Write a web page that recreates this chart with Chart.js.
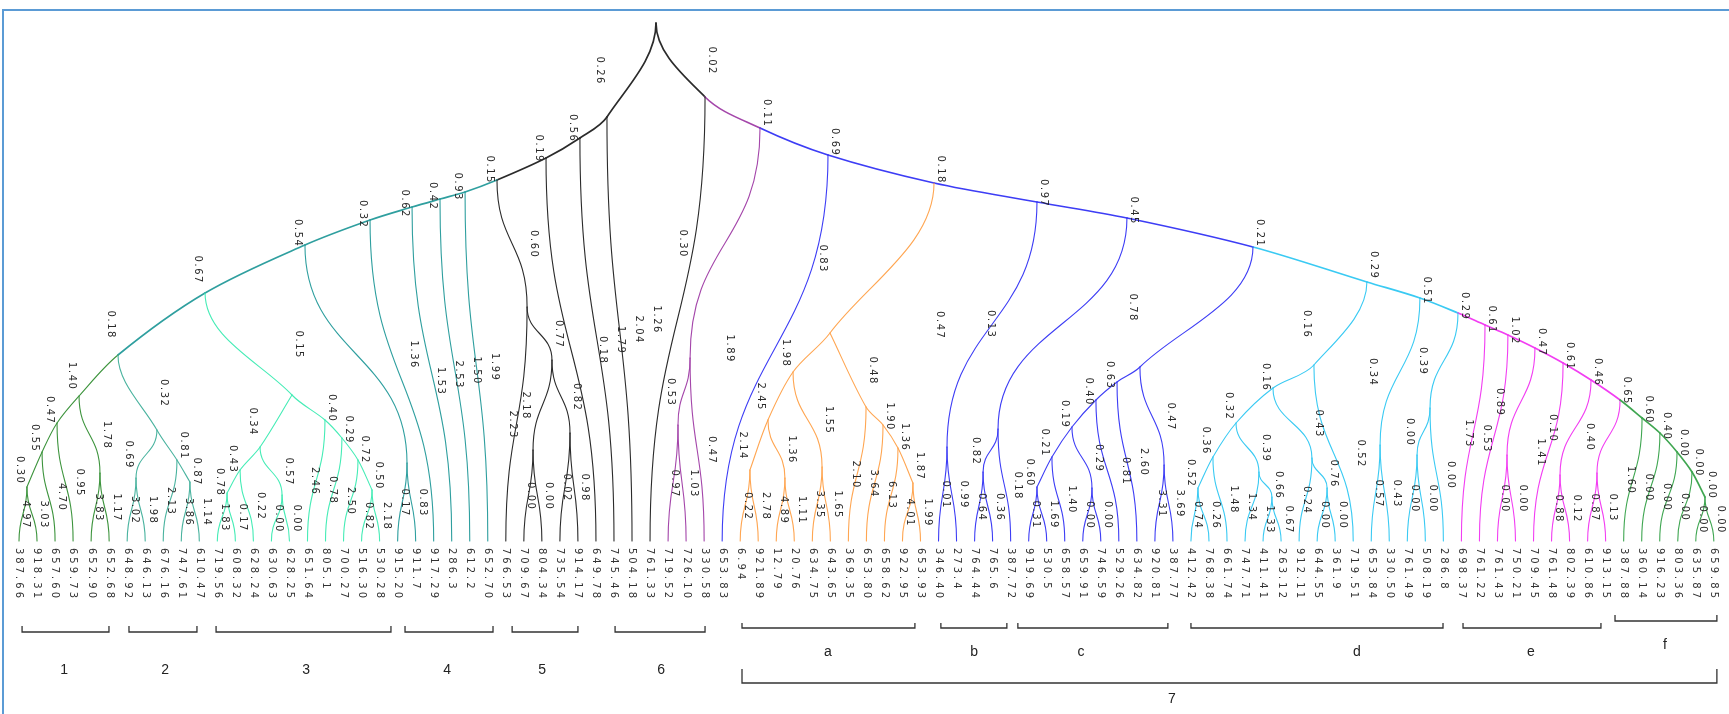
<!DOCTYPE html>
<html>
<head>
<meta charset="utf-8">
<script src="https://cdn.jsdelivr.net/npm/chart.js@4.4.1/dist/chart.umd.min.js"></script>
<style>
  html, body { margin: 0; padding: 0; background: #ffffff; overflow: hidden; }
  #wrap { position: relative; width: 1729px; height: 714px; }
</style>
</head>
<body>
<div id="wrap"><canvas id="tree" width="1729" height="714"></canvas></div>
<script>
// Leaf values, left to right (leaf i sits at x = i on the horizontal scale)
const leafValues = [
  '387.66','918.31','657.60','659.73','652.90','652.68','648.92','646.13','676.16','747.61',
  '610.47','719.56','608.32','628.24','630.63','628.25','651.64','805.1','700.27','516.30',
  '530.28','915.20','911.7','917.29','286.3','612.2','652.70','766.53','709.67','804.34',
  '735.54','914.17','649.78','745.46','504.18','761.33','719.52','726.10','330.58','653.83',
  '6.94','921.89','12.79','20.76','634.75','643.65','369.35','653.80','658.62','922.95',
  '653.93','346.40','273.4','764.44','765.6','387.72','919.69','530.5','658.57','659.91',
  '746.59','529.26','634.82','920.81','387.77','412.42','768.38','661.74','747.71','411.41',
  '263.12','912.11','644.55','361.9','719.51','653.84','330.50','761.49','508.19','286.8',
  '698.37','761.22','761.43','750.21','709.45','761.48','802.39','610.86','913.15','387.88',
  '360.14','916.23','803.36','635.87','659.85'
];

// Clade of consecutive runs of leaves
const leafCladeRuns = [
  ['g1', 6], ['g2', 5], ['g3', 10], ['t', 6], ['k', 9], ['pu', 3], ['bl', 1],
  ['or', 11], ['bl', 14], ['cy', 15], ['mg', 9], ['gf', 6]
];

// Internal nodes: horizontal position in leaf units, height above the leaves
const nodeNames = ['root','B1','B2','B3','B4','N5a','N5b','N5c','N5d','T1','T2','T3','T4','T5','T6','A1','N4a',
  'n1','n2','n3','n4','n45','G2a','G2b','G2c','G2d','G3a','G3b','G3c','G3d','G3e','G3f','G3g','G3h','G3i',
  'R','P','p1','p2','Q','S','O1','aL1','aL2','a1','a2','a3','a4','a5','a7','a6','U','b1','V','b3','b2',
  'W','c1','c2','c3','c4','c5','c6','c7','cN','X','d1','d2','d3','d4','d4a','d5','d5b','d6','d7',
  'Y','d8','Z','d9','d10','M1','M2','M3','M4','M5','e1','e2','F1','e5','F2','F3','F4','F5','F6'];
const nodeX = [35.33,32.61,31.11,29.23,26.51,28.18,29.56,28.51,30.56,24.74,23.35,21.80,19.47,15.86,10.32,5.49,21.52,
  3.33,2.11,1.28,0.44,4.49,7.65,6.49,8.76,9.48,15.14,13.37,16.97,17.91,18.80,19.58,12.26,11.54,14.59,
  38.05,41.10,37.22,36.55,44.87,50.75,44.98,42.93,41.54,40.54,42.48,44.54,46.98,47.92,48.75,49.58,56.46,51.47,61.45,54.30,53.47,
  68.44,62.17,60.90,59.73,58.40,57.29,56.46,59.51,63.51,74.76,71.82,69.55,67.50,66.22,65.39,68.77,69.49,71.71,72.55,
  77.70,75.49,79.81,78.26,77.54,81.31,82.58,84.08,85.64,87.19,82.53,85.47,88.80,87.52,90.02,91.01,91.96,92.79,93.51];
const nodeH = [5.18,4.24,4.03,3.83,3.61,2.34,1.81,0.91,1.08,3.49,3.42,3.34,3.21,2.96,2.48,1.86,0.78,
  1.45,1.18,0.89,0.54,0.68,1.11,0.63,0.81,0.59,1.46,0.94,1.21,1.03,0.81,0.51,0.71,0.48,0.46,
  4.44,4.13,1.83,1.16,3.86,3.58,2.08,1.69,1.21,0.71,0.63,0.74,1.34,1.16,0.93,0.58,3.39,0.94,3.23,1.12,0.69,
  2.94,1.74,1.59,1.41,1.14,0.84,0.54,0.53,0.76,2.59,1.76,1.53,1.18,0.84,0.53,0.69,0.44,0.83,0.53,
  2.43,0.96,2.28,1.33,0.86,2.16,2.06,1.93,1.78,1.61,0.86,0.66,1.41,0.68,1.23,1.08,0.89,0.69,0.44];
const nodeClade = ['k','k','k','k','k','k','k','k','k','t','t','t','t','t','t','t','t',
  'g1','g1','g1','g1','g1','g2','g2','g2','g2','g3','g3','g3','g3','g3','g3','g3','g3','g3',
  'k','pu','pu','pu','bl','bl','or','or','or','or','or','or','or','or','or','or','bl','bl','bl','bl','bl',
  'bl','bl','bl','bl','bl','bl','bl','bl','bl','cy','cy','cy','cy','cy','cy','cy','cy','cy','cy',
  'cy','cy','cy','cy','cy','mg','mg','mg','mg','mg','mg','mg','mg','mg','gf','gf','gf','gf','gf'];

// Branches: parent, child, branch length label
const edges = [
  ['root','B1','0.26'],['root','R','0.02'],
  ['B1','B2','0.56'],['B1','L34','2.04'],['B2','B3','0.19'],['B2','L33','1.79'],
  ['B3','B4','0.15'],['B3','L32','0.18'],['B4','T1','0.93'],['B4','N5a','0.60'],
  ['N5a','L27','2.23'],['N5a','N5b','0.77'],['N5b','N5c','2.18'],['N5b','N5d','0.82'],
  ['N5c','L28','0.00'],['N5c','L29','0.00'],['N5d','L30','0.02'],['N5d','L31','0.98'],
  ['T1','T2','0.42'],['T1','L26','1.99'],['T2','T3','0.62'],['T2','L25','1.50'],
  ['T3','T4','0.32'],['T3','L24','2.53'],['T4','T5','0.54'],['T4','L23','1.53'],
  ['T5','T6','0.67'],['T5','N4a','1.36'],['N4a','L21','0.17'],['N4a','L22','0.83'],
  ['T6','A1','0.18'],['T6','G3a','0.15'],['A1','n1','1.40'],['A1','G2a','0.32'],
  ['n1','n2','0.47'],['n1','n45','1.78'],['n2','n3','0.55'],['n2','L3','0.95'],
  ['n3','n4','0.30'],['n3','L2','4.70'],['n4','L0','4.97'],['n4','L1','3.03'],
  ['n45','L4','3.83'],['n45','L5','1.17'],
  ['G2a','G2b','0.69'],['G2a','G2c','0.81'],['G2b','L6','3.02'],['G2b','L7','1.98'],
  ['G2c','L8','2.13'],['G2c','G2d','0.87'],['G2d','L9','3.86'],['G2d','L10','1.14'],
  ['G3a','G3b','0.34'],['G3a','G3c','0.40'],['G3b','G3g','0.43'],['G3b','G3i','0.57'],
  ['G3g','G3h','0.78'],['G3g','L13','0.22'],['G3h','L11','1.83'],['G3h','L12','0.17'],
  ['G3i','L14','0.00'],['G3i','L15','0.00'],['G3c','L16','2.46'],['G3c','G3d','0.29'],
  ['G3d','L17','0.78'],['G3d','G3e','0.72'],['G3e','L18','2.50'],['G3e','G3f','0.50'],
  ['G3f','L19','0.82'],['G3f','L20','2.18'],
  ['R','P','0.11'],['R','L35','1.26'],['P','Q','0.69'],['P','p1','0.30'],
  ['p1','p2','0.53'],['p1','L38','0.47'],['p2','L36','0.97'],['p2','L37','1.03'],
  ['Q','S','0.18'],['Q','L39','1.89'],['S','U','0.97'],['S','O1','0.83'],
  ['O1','aL1','1.98'],['O1','a4','0.48'],['aL1','aL2','2.45'],['aL1','a3','1.55'],
  ['aL2','a1','2.14'],['aL2','a2','1.36'],['a1','L40','0.22'],['a1','L41','2.78'],
  ['a2','L42','4.89'],['a2','L43','1.11'],['a3','L44','3.35'],['a3','L45','1.65'],
  ['a4','L46','2.10'],['a4','a5','1.90'],['a5','L47','3.64'],['a5','a7','1.36'],
  ['a7','L48','6.13'],['a7','a6','1.87'],['a6','L49','4.01'],['a6','L50','1.99'],
  ['U','V','0.45'],['U','b1','0.47'],['b1','L51','0.01'],['b1','L52','0.99'],
  ['V','W','0.21'],['V','b3','0.13'],['b3','b2','0.82'],['b3','L55','0.18'],
  ['b2','L53','0.64'],['b2','L54','0.36'],
  ['W','X','0.29'],['W','c1','0.78'],['c1','c2','0.63'],['c1','cN','0.47'],
  ['c2','c3','0.40'],['c2','L62','2.60'],['c3','c4','0.19'],['c3','L61','0.81'],
  ['c4','c5','0.21'],['c4','c7','0.29'],['c5','c6','0.60'],['c5','L58','1.40'],
  ['c6','L56','0.31'],['c6','L57','1.69'],['c7','L59','0.00'],['c7','L60','0.00'],
  ['cN','L63','3.31'],['cN','L64','3.69'],
  ['X','Y','0.51'],['X','d1','0.16'],['d1','d2','0.16'],['d1','L74','0.52'],
  ['d2','d3','0.32'],['d2','d6','0.43'],['d3','d4','0.36'],['d3','d5','0.39'],
  ['d4','d4a','0.52'],['d4','L67','1.48'],['d4a','L65','0.74'],['d4a','L66','0.26'],
  ['d5','L68','1.34'],['d5','d5b','0.66'],['d5b','L69','1.33'],['d5b','L70','0.67'],
  ['d6','L71','0.24'],['d6','d7','0.76'],['d7','L72','0.00'],['d7','L73','0.00'],
  ['Y','Z','0.29'],['Y','d8','0.34'],['d8','L75','0.57'],['d8','L76','0.43'],
  ['Z','M1','0.61'],['Z','d9','0.39'],['d9','d10','0.00'],['d9','L79','0.00'],
  ['d10','L77','0.00'],['d10','L78','0.00'],
  ['M1','L80','1.73'],['M1','M2','1.02'],['M2','L81','0.53'],['M2','M3','0.47'],
  ['M3','e1','0.89'],['M3','M4','0.61'],['e1','L82','0.00'],['e1','L83','0.00'],
  ['M4','L84','1.41'],['M4','M5','0.46'],['M5','e2','0.10'],['M5','F1','0.65'],
  ['e2','L85','0.88'],['e2','L86','0.12'],['F1','e5','0.40'],['F1','F2','0.60'],
  ['e5','L87','0.87'],['e5','L88','0.13'],['F2','L89','1.60'],['F2','F3','0.40'],
  ['F3','L90','0.00'],['F3','F4','0.00'],['F4','L91','0.00'],['F4','F5','0.00'],
  ['F5','L92','0.00'],['F5','F6','0.00'],['F6','L93','0.00'],['F6','L94','0.00']
];

// Nodes on the main arching spine
const spineNodes = ['B1','B2','B3','B4','T1','T2','T3','T4','T5','T6','A1','R','P','Q','S','U','V','W',
  'X','Y','Z','M1','M2','M3','M4','M5','F1','F2','F3','F4','F5','F6'];

// Group brackets under the leaves (extents in leaf units)
const bracketNames  = ['1','2','3','4','5','6','a','b','c','d','e','f','7'];
const bracketFrom   = [0.17, 6.10, 10.93, 21.41, 27.35, 33.06, 40.10, 51.13, 55.40, 65.00, 80.09, 88.52, 40.10];
const bracketTo     = [4.99, 9.87, 20.63, 26.29, 31.00, 38.05, 49.69, 54.79, 63.72, 78.98, 87.74, 94.17, 94.17];
const bracketLabelX = [2.50, 8.10, 15.92, 23.74, 29.01, 35.61, 44.87, 52.97, 58.90, 74.21, 83.86, 91.29, 63.95];
const bracketRow    = [0, 0, 0, 0, 0, 0, 1, 1, 1, 1, 1, 2, 3];

// ---- styling ----
const cladeColors = {
  k: '#2b2b2b', t: '#2f9f9f', g1: '#3d943d', g2: '#4ab39f', g3: '#46ecb6',
  pu: '#a446aa', bl: '#3d3df5', or: '#ffa652', cy: '#3acaf3', mg: '#f23ef2', gf: '#3fa651'
};
// runs of branches drawn as one smooth arc (vStart: the arc leaves its first node vertically)
const arcChains = [
  { nodes: ['root','B1','B2','B3','B4','T1','T2','T3','T4','T5','T6','A1','n1','n2','n3','n4'], vStart: true },
  { nodes: ['root','R','P','Q','S','U','V','W','X','Y','Z','M1','M2','M3','M4','M5','F1','F2','F3','F4','F5','F6'], vStart: true },
  { nodes: ['W','c1','c2','c3','c4','c5','c6'], vStart: true },
  { nodes: ['X','d1','d2','d3','d4','d4a'], vStart: true },
  { nodes: ['S','O1','aL1','aL2','a1'], vStart: true },
  { nodes: ['O1','a4','a5','a7','a6'], vStart: false },
  { nodes: ['T6','G3a','G3c','G3d','G3e','G3f'], vStart: true },
  { nodes: ['G3a','G3b','G3g','G3h'], vStart: false },
  { nodes: ['A1','G2a','G2c','G2d'], vStart: true }
];
// bracket rows: line, tick tip and label heights (same units as node heights)
const bracketRows = [
  { line: -0.91, tick: -0.85, text: -1.29 },
  { line: -0.87, tick: -0.82, text: -1.11 },
  { line: -0.80, tick: -0.74, text: -1.04 },
  { line: -1.42, tick: -1.28, text: -1.58 }
];

// ---- tree lookup ----
const pos = {};
const clade = {};
leafValues.forEach((v, i) => { pos['L' + i] = { x: i, y: 0, leaf: true }; });
let li = 0;
leafCladeRuns.forEach(([c, n]) => { for (let j = 0; j < n; j++) clade['L' + (li++)] = c; });
nodeNames.forEach((n, i) => { pos[n] = { x: nodeX[i], y: nodeH[i], leaf: false }; clade[n] = nodeClade[i]; });
const spine = new Set(spineNodes);

// vertical text (reads top to bottom) with extra letter spacing
function vText(ctx, str, cx, cy, spacing, centered) {
  const chars = [...str];
  const widths = chars.map(ch => ctx.measureText(ch).width);
  const total = widths.reduce((s, w) => s + w, 0) + spacing * (chars.length - 1);
  ctx.save();
  ctx.translate(cx, cy);
  ctx.rotate(Math.PI / 2);
  ctx.textAlign = 'left';
  ctx.textBaseline = 'middle';
  let x = centered ? -total / 2 : 0;
  chars.forEach((ch, i) => { ctx.fillText(ch, x, 0); x += widths[i] + spacing; });
  ctx.restore();
}

// control points for the branches that belong to a smooth arc
function arcControls(P) {
  const map = {};
  arcChains.forEach(ch => {
    const pts = ch.nodes.map(P);
    const n = pts.length;
    const dirs = pts.map((p, i) => {
      let dx, dy;
      if (i === 0) {
        if (ch.vStart) { dx = 0; dy = 1; } else { dx = pts[1].x - p.x; dy = pts[1].y - p.y; }
      } else if (i === n - 1) {
        dx = p.x - pts[i - 1].x; dy = p.y - pts[i - 1].y;
      } else {
        dx = pts[i + 1].x - pts[i - 1].x; dy = pts[i + 1].y - pts[i - 1].y;
      }
      const m = Math.hypot(dx, dy) || 1;
      return { x: dx / m, y: dy / m };
    });
    for (let i = 0; i < n - 1; i++) {
      const a = pts[i], b = pts[i + 1];
      const L = Math.hypot(b.x - a.x, b.y - a.y) / 3;
      map[ch.nodes[i] + '>' + ch.nodes[i + 1]] =
        [a.x + dirs[i].x * L, a.y + dirs[i].y * L, b.x - dirs[i + 1].x * L, b.y - dirs[i + 1].y * L];
    }
  });
  return map;
}

const treePlugin = {
  id: 'dendrogram',
  afterDatasetsDraw(chart) {
    const ctx = chart.ctx;
    const xs = chart.scales.x, ys = chart.scales.y;
    const P = id => ({ x: xs.getPixelForValue(pos[id].x), y: ys.getPixelForValue(pos[id].y) });
    const arcs = arcControls(P);
    ctx.save();

    // frame
    ctx.strokeStyle = '#5b9bd5';
    ctx.lineWidth = 2;
    ctx.beginPath();
    ctx.moveTo(3, chart.height);
    ctx.lineTo(3, 10);
    ctx.lineTo(chart.width, 10);
    ctx.stroke();

    // branches
    ctx.lineCap = 'round';
    edges.forEach(([p, c]) => {
      const a = P(p), b = P(c);
      const cp = arcs[p + '>' + c];
      const my = (a.y + b.y) / 2;
      ctx.beginPath();
      ctx.moveTo(a.x, a.y);
      if (cp) ctx.bezierCurveTo(cp[0], cp[1], cp[2], cp[3], b.x, b.y);
      else ctx.bezierCurveTo(a.x, my, b.x, my, b.x, b.y);
      ctx.strokeStyle = cladeColors[clade[c]];
      ctx.lineWidth = spine.has(c) ? 1.7 : 1.1;
      ctx.stroke();
    });

    // branch length labels
    ctx.fillStyle = '#2a2a2a';
    ctx.font = '10px "DejaVu Sans"';
    edges.forEach(([p, c, lab]) => {
      const a = P(p), b = P(c);
      const side = (pos[c].leaf || b.x >= a.x) ? 1 : -1;
      vText(ctx, lab, b.x + side * 7, (a.y + b.y) / 2, 1.5, true);
    });

    // leaf values
    ctx.fillStyle = '#333333';
    const top = ys.getPixelForValue(0) + 7;
    leafValues.forEach((v, i) => vText(ctx, v, xs.getPixelForValue(i), top, 3, false));

    // group brackets
    ctx.strokeStyle = '#333333';
    ctx.lineWidth = 1.3;
    ctx.lineCap = 'butt';
    ctx.font = '14px "Liberation Sans"';
    ctx.textAlign = 'center';
    ctx.textBaseline = 'middle';
    bracketNames.forEach((name, i) => {
      const row = bracketRows[bracketRow[i]];
      const x0 = xs.getPixelForValue(bracketFrom[i]);
      const x1 = xs.getPixelForValue(bracketTo[i]);
      const yl = ys.getPixelForValue(row.line);
      const yt = ys.getPixelForValue(row.tick);
      ctx.beginPath();
      ctx.moveTo(x0, yt); ctx.lineTo(x0, yl); ctx.lineTo(x1, yl); ctx.lineTo(x1, yt);
      ctx.stroke();
      ctx.fillStyle = '#222222';
      ctx.fillText(name, xs.getPixelForValue(bracketLabelX[i]), ys.getPixelForValue(row.text));
    });

    ctx.restore();
  }
};

new Chart(document.getElementById('tree'), {
  type: 'scatter',
  data: {
    datasets: [{
      data: Object.keys(pos).map(id => ({ x: pos[id].x, y: pos[id].y })),
      pointRadius: 0,
      showLine: false
    }]
  },
  options: {
    responsive: false,
    animation: false,
    devicePixelRatio: 1,
    events: [],
    layout: { padding: 0 },
    scales: {
      x: { type: 'linear', min: -1.0538, max: 94.842, display: false },
      y: { type: 'linear', min: -1.73, max: 5.41, display: false }
    },
    plugins: { legend: { display: false }, tooltip: { enabled: false } }
  },
  plugins: [treePlugin]
});
</script>
</body>
</html>
